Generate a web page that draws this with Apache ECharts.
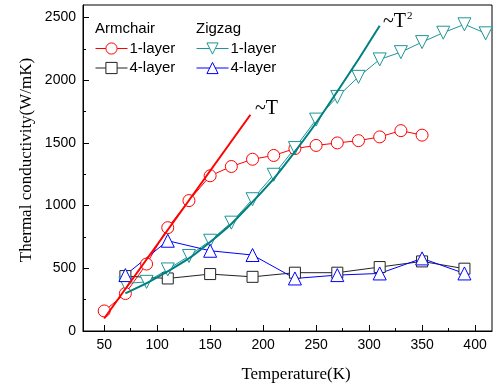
<!DOCTYPE html>
<html>
<head>
<meta charset="utf-8">
<script src="https://cdn.jsdelivr.net/npm/echarts@6/dist/echarts.min.js"></script>
<style>
  html, body { margin: 0; padding: 0; background: #fff; }
  #chart { width: 496px; height: 388px; }
</style>
</head>
<body>
<div id="chart"></div>
<script>
// temperatures (K)
const armTemps1 = [50, 70, 90, 110, 130, 150, 170, 190, 210, 230, 250, 270, 290, 310, 330, 350]
const zigTemps1 = [70, 90, 110, 130, 150, 170, 190, 210, 230, 250, 270, 290, 310, 330, 350, 370, 390, 410]
const temps4 = [70, 110, 150, 190, 230, 270, 310, 350, 390]

// thermal conductivity (W/mK)
const armchair1 = [160, 299, 534, 824, 1040, 1238, 1312, 1370, 1400, 1455, 1480, 1500, 1518, 1548, 1598, 1562]
const armchair4 = [438, 419, 454, 432, 465, 465, 510, 555, 497]
const zigzag1 = [379, 392, 491, 598, 720, 864, 1051, 1246, 1459, 1686, 1867, 2027, 2166, 2224, 2304, 2379, 2446, 2374]
const zigzag4 = [446, 720, 640, 606, 419, 446, 459, 579, 459]

// fitted guides
const fitLinear = [[50, 100], [188, 1725]]
const fitSquare = [[70, 300], [110, 475], [150, 710], [190, 1030], [230, 1430], [270, 1910], [310, 2435]]

const xMajor = [50, 100, 150, 200, 250, 300, 350, 400]
const xMinor = [75, 125, 175, 225, 275, 325, 375]
const yMajor = [0, 500, 1000, 1500, 2000, 2500]
const yMinor = [250, 750, 1250, 1750, 2250]

const pair = (xs, ys) => xs.map((x, i) => [x, ys[i]])

const sans = 'Liberation Sans, Arial, sans-serif'
const serif = 'Liberation Serif, Times New Roman, serif'

const RED = '#ff0000', BLACK = '#222222', TEAL = '#1f9595', BLUE = '#0000ff'

function dataSeries(name, data, color, symbol, size, rotate) {
  return {
    name: name,
    type: 'line',
    data: data,
    symbol: symbol,
    symbolSize: size,
    symbolRotate: rotate || 0,
    showAllSymbol: true,
    lineStyle: { color: color, width: 1 },
    itemStyle: { color: '#fff', borderColor: color, borderWidth: 1 },
    emphasis: { disabled: true },
    z: 3
  }
}

var myChart = echarts.init(document.getElementById('chart'), null, { renderer: 'canvas' })

const legendBase = {
  orient: 'vertical',
  top: 41,
  itemWidth: 32,
  itemHeight: 14,
  itemGap: 4.5,
  selectedMode: false,
  padding: 0,
  lineStyle: { width: 1 },
  itemStyle: { borderWidth: 1 },
  textStyle: { fontFamily: sans, fontSize: 15, color: '#000', padding: [0, 0, 0, -3] },
  formatter: n => n.split(' ')[1]
}

const xBase = {
  type: 'value', min: 30, max: 416, position: 'bottom',
  splitLine: { show: false }
}
const yBase = {
  type: 'value', min: 0, max: 2600, position: 'left',
  splitLine: { show: false }
}

myChart.setOption({
  animation: false,
  backgroundColor: '#fff',
  grid: {
    left: 83, right: 4, top: 5, bottom: 57,
    show: true, borderColor: '#000', borderWidth: 1
  },
  xAxis: [
    Object.assign({}, xBase, {
      axisLine: { lineStyle: { color: '#000', width: 1 } },
      axisTick: { inside: true, length: 6, customValues: xMajor, lineStyle: { color: '#000' } },
      axisLabel: { customValues: xMajor, formatter: v => String(v), color: '#000', fontFamily: sans, fontSize: 14, margin: 7 }
    }),
    Object.assign({}, xBase, {
      axisLine: { show: false },
      axisTick: { inside: true, length: 3, customValues: xMinor, lineStyle: { color: '#000' } },
      axisLabel: { show: false }
    })
  ],
  yAxis: [
    Object.assign({}, yBase, {
      axisLine: { show: true, lineStyle: { color: '#000', width: 1 } },
      axisTick: { show: true, inside: true, length: 6, customValues: yMajor, lineStyle: { color: '#000' } },
      axisLabel: { customValues: yMajor, formatter: v => String(v), color: '#000', fontFamily: sans, fontSize: 14, margin: 7 }
    }),
    Object.assign({}, yBase, {
      axisLine: { show: false },
      axisTick: { show: true, inside: true, length: 3, customValues: yMinor, lineStyle: { color: '#000' } },
      axisLabel: { show: false }
    })
  ],
  legend: [
    Object.assign({}, legendBase, { left: 95, data: ['Armchair 1-layer', 'Armchair 4-layer'] }),
    Object.assign({}, legendBase, { left: 196, data: ['Zigzag 1-layer', 'Zigzag 4-layer'] })
  ],
  graphic: [
    { type: 'text', left: 95, top: 21, style: { text: 'Armchair', font: '15px ' + sans, fill: '#000' } },
    { type: 'text', left: 196, top: 21, style: { text: 'Zigzag', font: '15px ' + sans, fill: '#000' } },
    { type: 'text', x: 255, y: 119, style: { text: '~T', font: '20px ' + serif, fill: '#000', verticalAlign: 'bottom' } },
    { type: 'text', x: 383, y: 32, style: { text: '~T', font: '20px ' + serif, fill: '#000', verticalAlign: 'bottom' } },
    { type: 'text', x: 407, y: 22, style: { text: '2', font: '11px ' + serif, fill: '#000', verticalAlign: 'bottom' } },
    { type: 'text', x: 296, y: 375, style: { text: 'Temperature(K)', font: '17px ' + serif, fill: '#000', align: 'center', verticalAlign: 'middle' } },
    { type: 'text', x: 27, y: 160, rotation: Math.PI / 2, style: { text: 'Thermal conductivity(W/mK)', font: '17px ' + serif, fill: '#000', align: 'center', verticalAlign: 'middle' } }
  ],
  series: [
    dataSeries('Armchair 1-layer', pair(armTemps1, armchair1), RED, 'circle', 12),
    dataSeries('Armchair 4-layer', pair(temps4, armchair4), BLACK, 'rect', 11),
    dataSeries('Zigzag 1-layer', pair(zigTemps1, zigzag1), TEAL, 'triangle', 13, 180),
    dataSeries('Zigzag 4-layer', pair(temps4, zigzag4), BLUE, 'triangle', 13),
    {
      name: 'fitT', type: 'line', data: fitLinear, symbol: 'none',
      lineStyle: { color: RED, width: 2 }, z: 4, silent: true
    },
    {
      name: 'fitT2', type: 'line', data: fitSquare, symbol: 'none', smooth: true,
      lineStyle: { color: '#008080', width: 2 }, z: 4, silent: true
    }
  ]
})
</script>
</body>
</html>
